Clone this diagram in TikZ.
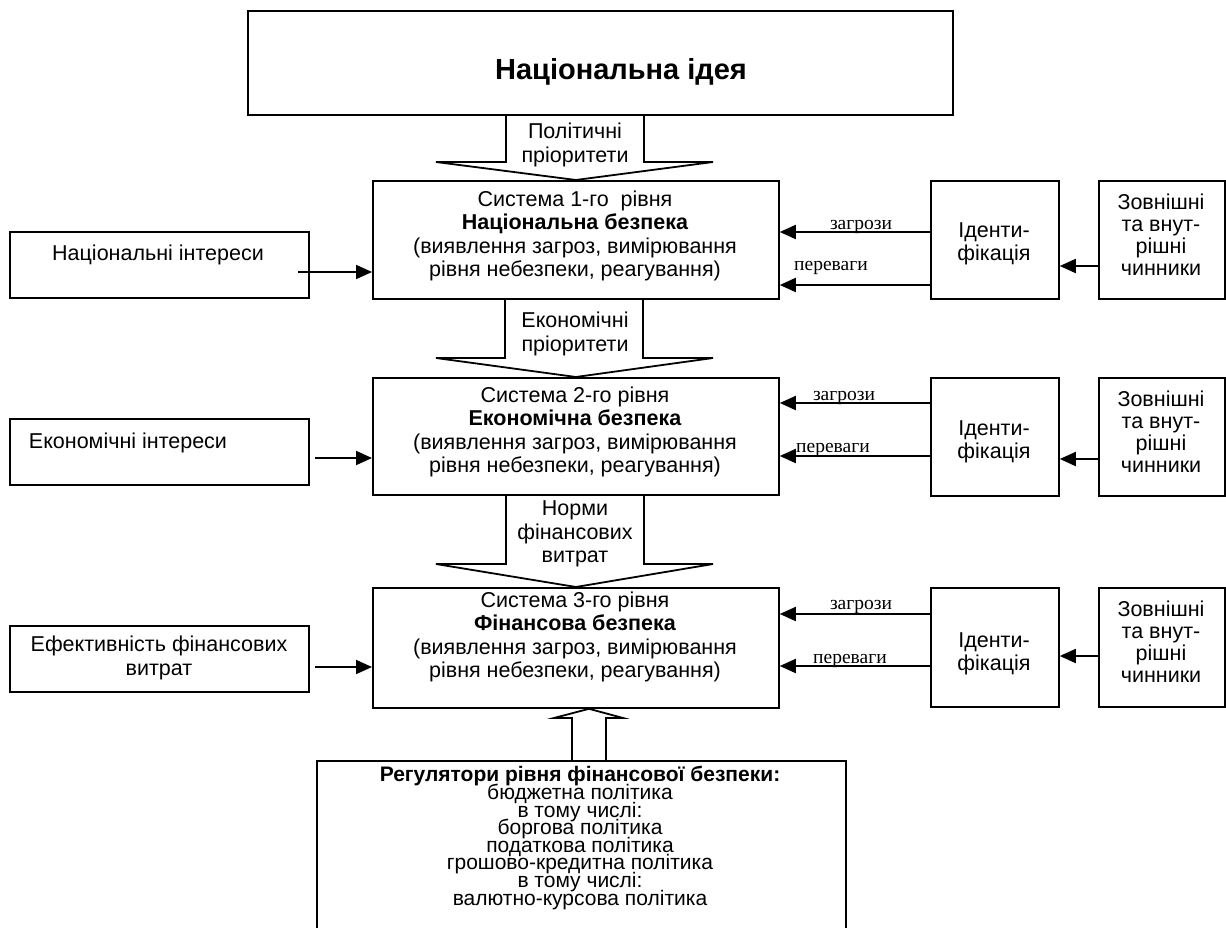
\documentclass[tikz,border=0pt]{standalone}
\usepackage{fontspec}
\setmainfont{Liberation Sans}
\newfontfamily\lblfont{Liberation Serif}
\usetikzlibrary{arrows.meta}
\begin{document}
\begin{tikzpicture}[x=1pt,y=-1pt,
  box/.style={draw, line width=1.8pt, inner sep=0pt, anchor=north west},
  txt/.style={align=center, inner sep=0pt, font=\fontsize{21.5}{23.5}\selectfont},
  lbl/.style={inner sep=0pt, font=\lblfont\fontsize{19.5}{21}\selectfont},
  arr/.style={line width=1.9pt, -{Triangle[length=16pt,width=14pt]}},
  blk/.style={line width=1.8pt, line join=miter}]
\useasboundingbox (0,0) rectangle (1226,928);
\clip (0,0) rectangle (1226,928);
\fill[white] (0,0) rectangle (1226,928);

% boxes
\node[box, minimum width=705, minimum height=104] (idea) at (247,10) {};
\node[box, minimum width=406, minimum height=118] (s1) at (372,180) {};
\node[box, minimum width=406, minimum height=117] (s2) at (372,377) {};
\node[box, minimum width=406, minimum height=120] (s3) at (372,587) {};
\node[box, minimum width=128, minimum height=118] (i1) at (930,180) {};
\node[box, minimum width=128, minimum height=118] (i2) at (930,377) {};
\node[box, minimum width=128, minimum height=119] (i3) at (930,587) {};
\node[box, minimum width=126, minimum height=118] (e1) at (1098,180) {};
\node[box, minimum width=126, minimum height=118] (e2) at (1098,377) {};
\node[box, minimum width=126, minimum height=119] (e3) at (1098,587) {};
\node[box, minimum width=299, minimum height=66] (l1) at (9,231) {};
\node[box, minimum width=299, minimum height=66] (l2) at (9,418) {};
\node[box, minimum width=299, minimum height=66] (l3) at (9,625) {};
\node[box, minimum width=529, minimum height=250] (reg) at (316,760) {};

% texts
\node[txt, font=\bfseries\fontsize{29}{32}\selectfont] (ideat) at (621,71.5) {Національна ідея};
\node[txt] (t1) at (575,145) {Політичні\\пріоритети};
\node[txt] (t2) at (575,334) {Економічні\\пріоритети};
\node[txt] (t3) at (575,534) {Норми\\фінансових\\витрат};
\node[txt] (st1) at (575,236) {Система 1-го~ рівня\\\textbf{Національна безпека}\\(виявлення загроз, вимірювання\\рівня небезпеки, реагування)};
\node[txt] (st2) at (575,432) {Система 2-го рівня\\\textbf{Економічна безпека}\\(виявлення загроз, вимірювання\\рівня небезпеки, реагування)};
\node[txt] (st3) at (575,637) {Система 3-го рівня\\\textbf{Фінансова безпека}\\(виявлення загроз, вимірювання\\рівня небезпеки, реагування)};
\node[txt] (it1) at (994,244) {Іденти-\\фікація};
\node[txt] (it2) at (994,442) {Іденти-\\фікація};
\node[txt] (it3) at (994,654) {Іденти-\\фікація};
\node[txt, font=\fontsize{21.5}{22}\selectfont] (et1) at (1161,235) {Зовнішні\\та внут-\\рішні\\чинники};
\node[txt, font=\fontsize{21.5}{22}\selectfont] (et2) at (1161,432) {Зовнішні\\та внут-\\рішні\\чинники};
\node[txt, font=\fontsize{21.5}{22}\selectfont] (et3) at (1161,642) {Зовнішні\\та внут-\\рішні\\чинники};
\node[txt] (lt1) at (158,255) {Національні інтереси};
\node[txt] (lt2) at (128,443) {Економічні інтереси};
\node[txt] (lt3) at (159,658) {Ефективність фінансових\\витрат};
\node[txt, font={\fontsize{21}{17.6}\selectfont\lineskiplimit-100pt\relax}] (regt) at (580,838) {\textbf{Регулятори рівня фінансової безпеки:}\\бюджетна політика\\в тому числі:\\боргова політика\\податкова політика\\грошово-кредитна політика\\в тому числі:\\валютно-курсова політика};

% block arrows
\draw[blk] (506,0 |- idea.south) -- (506,162) -- (436,162) -- (s1.north) -- (713,162) -- (644,162) -- (644,0 |- idea.south);
\draw[blk] (505,0 |- s1.south) -- (505,358) -- (436,358) -- (s2.north) -- (713,358) -- (643,358) -- (643,0 |- s1.south);
\draw[blk] (506,0 |- s2.south) -- (506,564) -- (436,564) -- (s3.north) -- (713,564) -- (644,564) -- (644,0 |- s2.south);
\draw[blk] (572,0 |- reg.north) -- (572,718) -- (554,718) -- (589,0 |- s3.south) -- (623,718) -- (606,718) -- (606,0 |- reg.north);

% left arrows
\coordinate (a1) at (298,272);
\coordinate (a2) at (315,458);
\coordinate (a3) at (315,667);
\draw[arr] (a1) -- (a1 -| s1.west);
\draw[arr] (a2) -- (a2 -| s2.west);
\draw[arr] (a3) -- (a3 -| s3.west);

% right side arrows
\draw[arr] (i1.west |- 0,232) -- (s1.east |- 0,232);
\draw[arr] (i1.west |- 0,285) -- (s1.east |- 0,285);
\draw[arr] (e1.west |- 0,266) -- (i1.east |- 0,266);
\draw[arr] (i2.west |- 0,403) -- (s2.east |- 0,403);
\draw[arr] (i2.west |- 0,456) -- (s2.east |- 0,456);
\draw[arr] (e2.west |- 0,459) -- (i2.east |- 0,459);
\draw[arr] (i3.west |- 0,614) -- (s3.east |- 0,614);
\draw[arr] (i3.west |- 0,666) -- (s3.east |- 0,666);
\draw[arr] (e3.west |- 0,656) -- (i3.east |- 0,656);

% labels
\node[lbl] (lz1) at (861,227) {загрози};
\node[lbl] (lp1) at (831,268) {переваги};
\node[lbl] (lz2) at (844,398) {загрози};
\node[lbl] (lp2) at (833,450) {переваги};
\node[lbl] (lz3) at (861,607) {загрози};
\node[lbl] (lp3) at (850,661) {переваги};
\end{tikzpicture}
\end{document}
